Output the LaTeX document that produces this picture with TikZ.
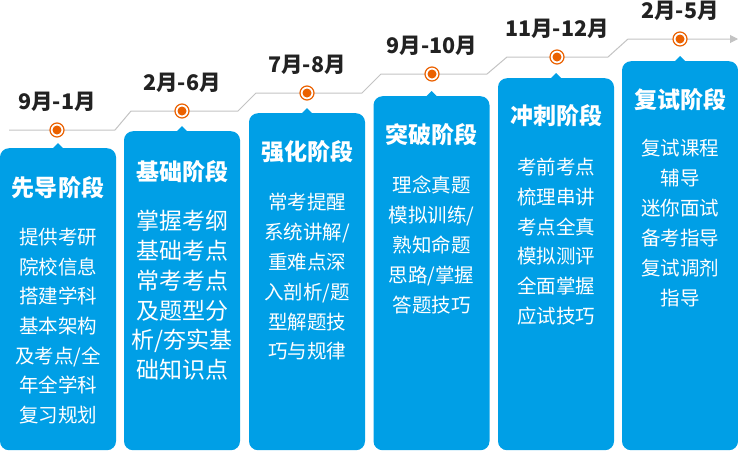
\documentclass[tikz,border=0pt]{standalone}
\usepackage{fontspec}
\setmainfont{Noto Sans CJK SC}
\usetikzlibrary{arrows.meta}
\definecolor{stageblue}{HTML}{009FE6}
\definecolor{dotorange}{HTML}{EB6100}
\definecolor{linegray}{HTML}{C3C3C3}
\definecolor{labeltext}{HTML}{222222}
\begin{document}
\begin{tikzpicture}[x=1pt,y=-1pt,
  stagebox/.style={fill=stageblue, rounded corners=9pt, minimum width=116pt, inner sep=0pt, anchor=north},
  notch/.style={fill=stageblue},
  datelabel/.style={font=\fontsize{21.5}{21.5}\selectfont\bfseries, text=labeltext, inner sep=0pt, anchor=base},
  stagetitle/.style={font=\fontsize{23}{23}\selectfont\bfseries, text=white, inner sep=0pt, anchor=base},
  bodytext/.style={font=\fontsize{19.5}{19.5}\selectfont, text=white, inner sep=0pt, anchor=base},
  bigbody/.style={font=\fontsize{23}{23}\selectfont, text=white, inner sep=0pt, anchor=base},
  dotring/.style={circle, draw=dotorange, fill=white, line width=1.2pt, minimum size=14pt, inner sep=0pt},
  dotcore/.style={circle, fill=dotorange, minimum size=9pt, inner sep=0pt},
  timeline/.style={draw=linegray, line width=1pt}]
\useasboundingbox (0,0) rectangle (738,451);

% boxes
\node[stagebox, minimum height=302pt] (box1) at (58,148) {};
\node[stagebox, minimum height=319pt] (box2) at (182,131) {};
\node[stagebox, minimum height=337pt] (box3) at (307,113) {};
\node[stagebox, minimum height=354pt] (box4) at (431.5,96) {};
\node[stagebox, minimum height=372pt] (box5) at (556,78) {};
\node[stagebox, minimum height=389pt] (box6) at (680,61) {};
\foreach \b in {box1,box2,box3,box4,box5,box6}
  \fill[notch] ([xshift=-5pt]\b.north) -- ++(5,-5) -- ++(5,5) -- cycle;

% timeline
\coordinate (l1) at (9,130);   \coordinate (r1) at (115,130);
\coordinate (l2) at (131,111); \coordinate (r2) at (238,111);
\coordinate (l3) at (256,93);  \coordinate (r3) at (362,93);
\coordinate (l4) at (381,74);  \coordinate (r4) at (487,74);
\coordinate (l5) at (507,57);  \coordinate (r5) at (608,57);
\coordinate (l6) at (628,39);  \coordinate (tip) at (738,39);
\draw[timeline, -{Triangle[length=8pt,width=8pt]}] (l1) -- (r1) -- (l2) -- (r2) -- (l3) -- (r3) -- (l4) -- (r4) -- (l5) -- (r5) -- (l6) -- (tip);

% dots and dates
\foreach \i/\cx/\cy/\lab in {1/57/130/9月-1月, 2/182/111/2月-6月, 3/307/93/7月-8月, 4/432/74/9月-10月, 5/557/57/11月-12月, 6/680/39/2月-5月}{
  \node[dotring] (d\i) at (\cx,\cy) {};
  \node[dotcore] (dc\i) at (d\i) {};
  \node[datelabel] (date\i) at (\cx,{\cy-28+7.7}) {\lab};
}

% titles
\foreach \i/\cx/\cy/\ttl in {1/58/188/先导阶段, 2/182/172/基础阶段, 3/307/152/强化阶段, 4/431.5/135/突破阶段, 5/556/116/冲刺阶段, 6/680/100/复试阶段}
  \node[stagetitle] (title\i) at (\cx,{\cy+8.7}) {\ttl};

% bodies
\foreach \t [count=\k] in {提供考研,院校信息,搭建学科,基本架构,及考点/全,年全学科,复习规划}
  \node[bodytext] (bodyA\k) at (58,{237+7.4+29.7*(\k-1)}) {\t};
\foreach \t [count=\k] in {掌握考纲,基础考点,常考考点,及题型分,析/夯实基,础知识点}
  \node[bigbody] (bodyB\k) at (182,{221+8.7+29.8*(\k-1)}) {\t};
\foreach \t [count=\k] in {常考提醒,系统讲解/,重难点深,入剖析/题,型解题技,巧与规律}
  \node[bodytext] (bodyC\k) at (307,{202+7.4+29.9*(\k-1)}) {\t};
\foreach \t [count=\k] in {理念真题,模拟训练/,熟知命题,思路/掌握,答题技巧}
  \node[bodytext] (bodyD\k) at (431.5,{185+7.4+30*(\k-1)}) {\t};
\foreach \t [count=\k] in {考前考点,梳理串讲,考点全真,模拟测评,全面掌握,应试技巧}
  \node[bodytext] (bodyE\k) at (556,{167+7.4+29.8*(\k-1)}) {\t};
\foreach \t [count=\k] in {复试课程,辅导,迷你面试,备考指导,复试调剂,指导}
  \node[bodytext] (bodyF\k) at (680,{148+7.4+30*(\k-1)}) {\t};
\end{tikzpicture}
\end{document}
